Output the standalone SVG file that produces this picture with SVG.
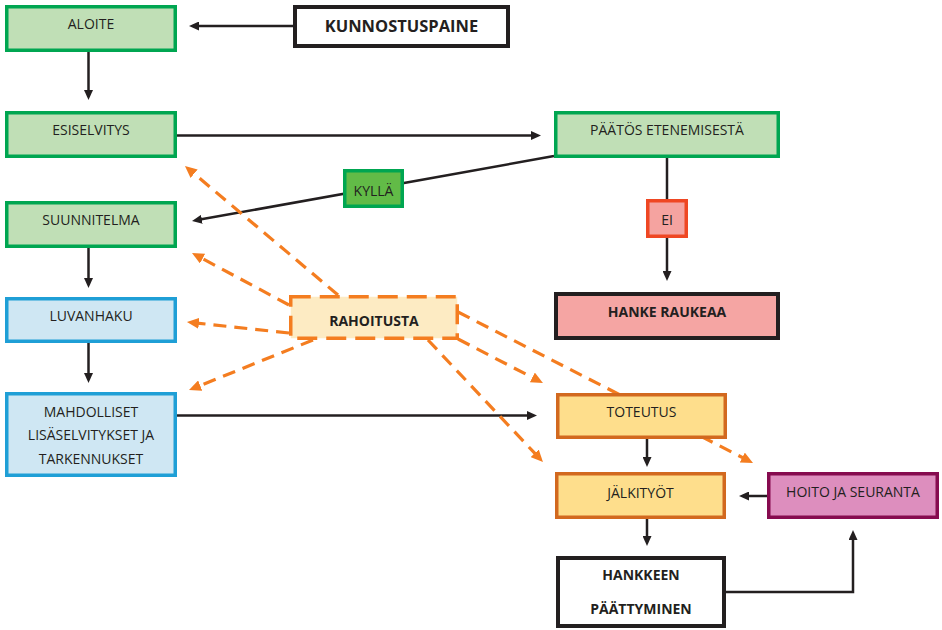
<svg xmlns="http://www.w3.org/2000/svg" width="942" height="630" viewBox="0 0 942 630">
<defs>
<marker id="ab" markerUnits="userSpaceOnUse" markerWidth="10" markerHeight="9" refX="2" refY="4.5" orient="auto"><path d="M0,0 L10,4.5 L0,9 z" fill="#231f20"/></marker>
<marker id="ao" markerUnits="userSpaceOnUse" markerWidth="12" markerHeight="11" refX="2" refY="5.5" orient="auto"><path d="M0,0 L12,5.5 L0,11 z" fill="#f47d20"/></marker>
</defs>
<style>
text{font-family:"Open Sans","DejaVu Sans",sans-serif;font-size:14px;fill:#231f20;text-anchor:middle}
.b{font-weight:bold}
.g{fill:#c0dfb6;stroke:#00a651;stroke-width:3.5}
.bl{fill:#cfe7f3;stroke:#1f9fd6;stroke-width:3.5}
.o{fill:#fede8c;stroke:#d2691f;stroke-width:3.5}
.k{fill:#ffffff;stroke:#231f20;stroke-width:4}
.c{fill:none;stroke:#231f20;stroke-width:2.5}
.d{fill:none;stroke:#f47d20;stroke-width:3.2;stroke-dasharray:13 8}
</style>
<rect width="942" height="630" fill="#ffffff"/>
<g id="connectors">
<path class="c" d="M293,26 H197" marker-end="url(#ab)"/>
<path class="c" d="M88.5,52 V92" marker-end="url(#ab)"/>
<path class="c" d="M177,135.5 H533" marker-end="url(#ab)"/>
<path class="c" d="M554,156 L199.9,219.6" marker-end="url(#ab)"/>
<path class="c" d="M667,158 V273" marker-end="url(#ab)"/>
<path class="c" d="M88.5,248 V280" marker-end="url(#ab)"/>
<path class="c" d="M88.5,343 V375" marker-end="url(#ab)"/>
<path class="c" d="M177,415.5 H529" marker-end="url(#ab)"/>
<path class="c" d="M647,439 V459" marker-end="url(#ab)"/>
<path class="c" d="M647,519 V538" marker-end="url(#ab)"/>
<path class="c" d="M767,496 H747" marker-end="url(#ab)"/>
<path class="c" d="M726,592 H853 V538" marker-end="url(#ab)"/>
<path class="d" d="M338,295 L192.6,172.4" marker-end="url(#ao)"/>
<path class="d" d="M289,305 L200.8,257.7" marker-end="url(#ao)"/>
<path class="d" d="M289,333 L196.9,323.1" marker-end="url(#ao)"/>
<path class="d" d="M313,340 L198.3,386.3" marker-end="url(#ao)"/>
<path class="d" d="M458,339 L534.1,378.4" marker-end="url(#ao)"/>
<path class="d" d="M458,312 L744.1,458.4" marker-end="url(#ao)"/>
<path class="d" d="M428,340 L536.1,454.7" marker-end="url(#ao)"/>
</g>
<g id="aloite"><rect class="g" x="6.75" y="6.75" width="168.5" height="43.5"/><text x="91" y="29">ALOITE</text></g>
<g id="kunnostuspaine"><rect class="k" x="295" y="7" width="213" height="39"/><text class="b" x="401.5" y="32" style="font-size:16.5px">KUNNOSTUSPAINE</text></g>
<g id="esiselvitys"><rect class="g" x="6.75" y="112.75" width="168.5" height="43.5"/><text x="91" y="135">ESISELVITYS</text></g>
<g id="suunnitelma"><rect class="g" x="6.75" y="202.75" width="168.5" height="43.5"/><text x="91" y="225">SUUNNITELMA</text></g>
<g id="luvanhaku"><rect class="bl" x="6.75" y="298.75" width="168.5" height="42.5"/><text x="91" y="321">LUVANHAKU</text></g>
<g id="mahdolliset"><rect class="bl" x="6.75" y="393.75" width="168.5" height="81.5"/><text x="91" y="417">MAHDOLLISET</text><text x="91" y="439.5">LISÄSELVITYKSET JA</text><text x="91" y="464">TARKENNUKSET</text></g>
<g id="paatos"><rect class="g" x="555.75" y="112.75" width="222.5" height="43.5"/><text x="667" y="135">PÄÄTÖS ETENEMISESTÄ</text></g>
<g id="kylla"><rect x="344.75" y="170.75" width="57.5" height="35.5" fill="#62bb47" stroke="#00a651" stroke-width="3.5"/><text x="373.5" y="195.5">KYLLÄ</text></g>
<g id="ei"><rect x="647.75" y="200.75" width="38.5" height="35.5" fill="#f5a3a0" stroke="#ef4723" stroke-width="3.5"/><text x="667" y="225">EI</text></g>
<g id="hanke-raukeaa"><rect class="k" x="556" y="294" width="222" height="44" style="fill:#f5a5a3"/><text class="b" x="667" y="317">HANKE RAUKEAA</text></g>
<g id="rahoitusta"><rect x="290.75" y="296.75" width="166.5" height="41.5" fill="#fdebc3" stroke="#f47d20" stroke-width="3.5" stroke-dasharray="20 9"/><text class="b" x="374" y="326">RAHOITUSTA</text></g>
<g id="toteutus"><rect class="o" x="557.75" y="394.75" width="167.5" height="42.5"/><text x="641.5" y="417">TOTEUTUS</text></g>
<g id="jalkityot"><rect class="o" x="556.75" y="473.75" width="167.5" height="43.5"/><text x="640.5" y="497.5">JÄLKITYÖT</text></g>
<g id="hoito"><rect x="768.75" y="473.75" width="168.5" height="43.5" fill="#dd8ebe" stroke="#860b4f" stroke-width="3.5"/><text x="853" y="497">HOITO JA SEURANTA</text></g>
<g id="hankkeen"><rect class="k" x="558" y="558" width="166" height="68"/><text class="b" x="641" y="580">HANKKEEN</text><text class="b" x="641" y="613.5">PÄÄTTYMINEN</text></g>
</svg>
